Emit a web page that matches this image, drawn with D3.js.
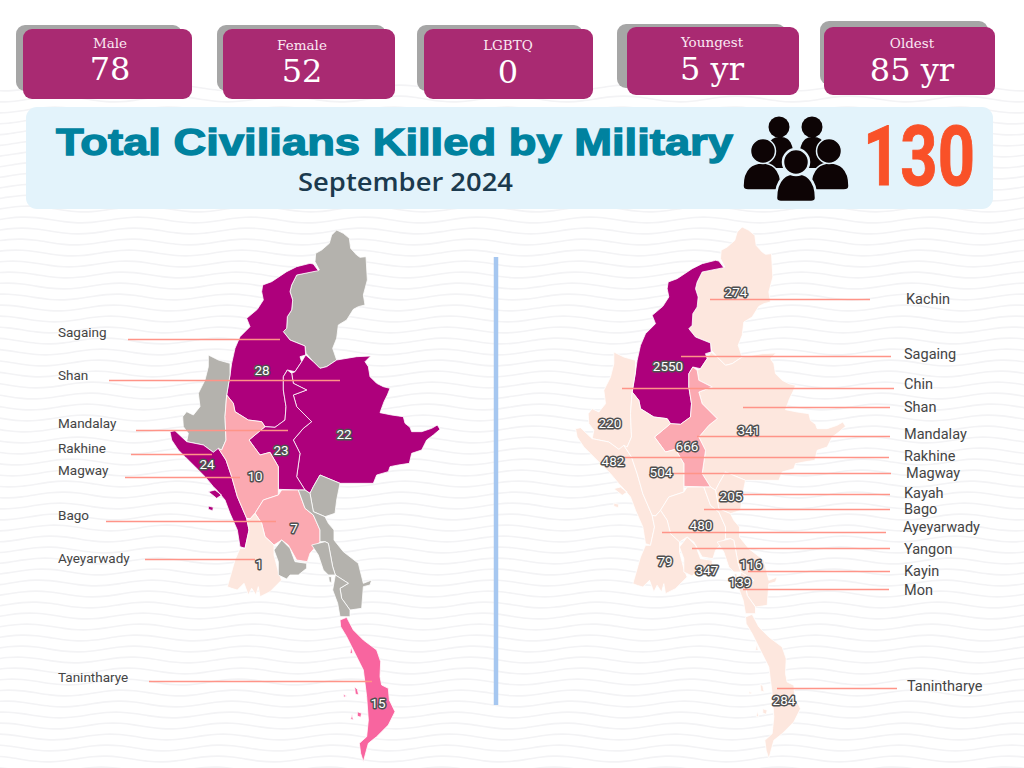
<!DOCTYPE html>
<html>
<head>
<meta charset="utf-8">
<style>
html,body{margin:0;padding:0;background:#fff}
svg{display:block}
</style>
<script src="https://cdn.jsdelivr.net/npm/d3@7"></script>
</head>
<body>
<script>
// stat boxes
var statLabels=["Male","Female","LGBTQ","Youngest","Oldest"]
var statValues=["78","52","0","5 yr","85 yr"]
var totalKilled=130

// regions, same order in both lists
var regionNames=["Kachin","Sagaing","Chin","Shan","Mandalay","Rakhine","Magway","Kayah","Bago","Ayeyarwady","Yangon","Kayin","Mon","Tanintharye"]
var septemberKilled=[0,28,0,22,23,24,10,0,7,1,0,0,0,15]
var overallKilled=[274,2550,220,341,666,482,504,205,480,79,347,116,139,284]

// map outlines, in map units
var outlines={
  Kachin:[[[560,30],[545,45],[538,70],[515,90],[497,100],[495,125],[508,150],[440,165],[425,195],[420,215],[428,240],[425,270],[412,290],[410,325],[400,335],[420,360],[465,378],[468,400],[490,425],[510,445],[530,440],[560,420],[548,385],[560,355],[565,315],[590,300],[610,268],[625,260],[645,255],[640,225],[652,180],[648,110],[630,112],[620,105],[602,85],[598,55],[580,40]]],
  Sagaing:[[[505,152],[490,132],[480,130],[440,140],[410,155],[365,185],[338,195],[335,215],[340,240],[322,268],[290,295],[300,320],[270,350],[255,385],[245,430],[240,465],[230,525],[250,550],[255,575],[295,600],[335,605],[345,620],[375,622],[405,600],[408,560],[400,510],[400,470],[412,450],[435,455],[455,425],[450,410],[467,405],[465,378],[420,360],[400,335],[410,325],[412,290],[425,270],[428,240],[420,215],[425,195],[440,165]]],
  Chin:[[[175,405],[205,420],[240,430],[240,465],[230,525],[225,590],[228,660],[215,690],[190,697],[160,675],[110,665],[115,640],[100,620],[98,590],[110,575],[130,585],[150,560],[145,520],[165,480],[175,440]]],
  Shan:[[[455,425],[467,405],[490,425],[510,445],[530,440],[560,420],[620,410],[662,408],[645,425],[655,440],[660,470],[680,490],[700,500],[720,505],[712,525],[702,545],[690,578],[725,585],[760,590],[765,610],[780,622],[785,635],[815,635],[845,625],[862,615],[870,628],[850,645],[830,660],[815,690],[785,700],[778,730],[745,735],[720,740],[715,755],[680,765],[670,790],[600,790],[570,790],[510,765],[490,800],[480,820],[465,810],[440,770],[450,700],[430,660],[460,625],[485,605],[440,560],[430,525],[470,510],[430,490],[425,460],[435,455]]],
  Mandalay:[[[345,620],[375,622],[405,600],[408,560],[400,510],[400,470],[412,450],[425,460],[430,490],[470,510],[430,525],[440,560],[485,605],[460,625],[430,660],[450,700],[440,770],[465,810],[445,810],[385,808],[385,740],[360,697],[330,705],[297,660]]],
  Rakhine:[[[60,635],[75,632],[110,665],[160,675],[190,697],[205,685],[228,720],[245,770],[262,830],[290,895],[297,930],[285,985],[270,980],[262,930],[240,880],[225,840],[200,810],[190,800],[165,770],[140,745],[105,710],[85,690],[65,660]],
    [[175,815],[195,810],[215,825],[200,835]],[[175,858],[190,862],[188,872],[175,868]]],
  Magway:[[[230,525],[250,550],[255,575],[295,600],[335,605],[345,620],[297,660],[330,705],[360,697],[385,740],[385,825],[340,840],[315,880],[300,897],[290,895],[262,830],[245,770],[228,720],[205,685],[215,690],[228,660],[225,590]]],
  Kayah:[[[510,765],[570,790],[560,840],[555,880],[525,890],[490,875],[480,820],[490,800]]],
  Bago:[[[385,825],[395,810],[445,810],[465,865],[490,885],[510,930],[510,965],[480,1000],[472,1025],[440,1020],[415,975],[395,960],[372,975],[345,950],[335,910],[315,880],[340,840]]],
  Ayeyarwady:[[[300,897],[315,880],[335,910],[345,950],[372,975],[372,1005],[385,1055],[395,1080],[360,1115],[330,1130],[325,1100],[318,1125],[305,1105],[295,1125],[282,1090],[262,1110],[245,1105],[232,1100],[255,1020],[270,985],[285,985],[297,930],[290,895]]],
  Yangon:[[[395,960],[420,985],[435,1025],[470,1030],[470,1045],[445,1065],[420,1065],[410,1077],[385,1065],[385,1025],[372,990]]],
  Kayin:[[[445,810],[465,810],[480,820],[490,875],[525,890],[535,910],[552,930],[552,960],[580,995],[625,1030],[630,1050],[640,1090],[665,1080],[660,1095],[640,1100],[635,1165],[600,1170],[575,1135],[570,1105],[595,1090],[556,1065],[548,1040],[535,970],[525,965],[510,965],[510,930],[490,885],[465,865]]],
  Mon:[[[485,975],[525,965],[535,970],[548,1040],[556,1065],[535,1065],[520,1050],[505,1005]],
    [[556,1065],[595,1090],[570,1105],[575,1135],[600,1170],[600,1190],[570,1190],[563,1150],[548,1110]],[[536,1070],[544,1070],[545,1088],[538,1085]]],
  Tanintharye:[[[570,1200],[590,1192],[610,1230],[640,1260],[680,1290],[692,1325],[690,1370],[695,1395],[715,1405],[718,1440],[735,1475],[715,1515],[680,1550],[655,1570],[640,1625],[632,1600],[628,1570],[650,1550],[655,1500],[650,1430],[645,1390],[640,1350],[605,1280],[590,1250],[572,1220]],
    [[614,1400],[622,1408],[626,1425],[616,1422]],[[580,1423],[590,1428],[582,1432]],[[622,1475],[635,1480],[632,1492],[622,1488]],[[606,1483],[610,1500],[602,1498]],[[600,1300],[604,1280],[608,1300]]]
}

// text and leader line layout in page pixels: [name x, name y, line x1, line x2, line y, value x, value y]
var leftLayout={
  Sagaing:[58,333,128,280,339,262,370],
  Shan:[58,376,109,340,380,344,434],
  Mandalay:[58,424,136,288,430,281,450],
  Rakhine:[58,449,131,212,454,207,464],
  Magway:[58,471,125,240,477,255,476],
  Bago:[58,516,106,276,521,294,528],
  Ayeyarwady:[58,559,145,255,559,259,564],
  Tanintharye:[58,678,149,372,681,378,703]
}
var rightLayout={
  Kachin:[906,300,710,870,299,736,292],
  Sagaing:[904,355,681,891,356,668,366],
  Chin:[904,385,622,894,388,610,423],
  Shan:[904,408,743,890,407,749,430],
  Mandalay:[904,435,697,890,436,687,446],
  Rakhine:[904,457,620,889,457,613,461],
  Magway:[906,474,660,891,473,661,472],
  Kayah:[904,494,743,890,494,731,496],
  Bago:[904,510,704,890,509,701,525],
  Ayeyarwady:[903,528,662,886,532,665,561],
  Yangon:[904,550,692,890,548,707,570],
  Kayin:[904,572,748,890,571,751,564],
  Mon:[904,591,743,889,589,740,582],
  Tanintharye:[907,687,777,897,688,784,700]
}

var boxes=[
  {x:23,y:29,w:169,h:70,sx:16,sy:25,lx:110,ly:48,vy:80},
  {x:223,y:29,w:172,h:70,sx:217,sy:25,lx:302,ly:50,vy:82},
  {x:424,y:29,w:169,h:70,sx:417,sy:25,lx:508,ly:50,vy:83},
  {x:627,y:27,w:172,h:68,sx:617,sy:24,lx:712,ly:47,vy:80},
  {x:824,y:27,w:171,h:68,sx:820,sy:21,lx:912,ly:48,vy:81}
]

var svg=d3.select("body").append("svg")
    .attr("width",1024)
    .attr("height",768)
    .style("font-family","Roboto")

// wavy paper background, starts below the top strip
var waveLine=d3.line().curve(d3.curveBasis)
var waves=svg.append("g").attr("id","waves")
d3.range(8,72).forEach(function(i){
  var pts=d3.range(-20,1050,14).map(function(x){
    return [x,i*11+3.2*Math.sin((x+i*3)/18)]
  })
  waves.append("path")
      .attr("d",waveLine(pts))
      .attr("fill","none")
      .attr("stroke","#f3f3f5")
      .attr("stroke-width",1.6)
})

// stat boxes
var box=svg.selectAll(".box")
    .data(boxes)
    .enter().append("g")
    .attr("class","box")

box.append("rect")
    .attr("x",function(d){return d.sx})
    .attr("y",function(d){return d.sy})
    .attr("width",function(d){return d.w-3})
    .attr("height",function(d){return d.h-4})
    .attr("rx",9)
    .style("fill","#a6a6a6")
box.append("rect")
    .attr("x",function(d){return d.x})
    .attr("y",function(d){return d.y})
    .attr("width",function(d){return d.w})
    .attr("height",function(d){return d.h})
    .attr("rx",9)
    .style("fill","#a92a72")
box.append("text")
    .attr("x",function(d){return d.lx})
    .attr("y",function(d){return d.ly})
    .attr("text-anchor","middle")
    .style("font-family","DejaVu Serif")
    .style("font-size","13.5px")
    .style("fill","#fbe9f2")
    .text(function(d,i){return statLabels[i]})
box.append("text")
    .attr("x",function(d){return d.lx})
    .attr("y",function(d){return d.vy})
    .attr("text-anchor","middle")
    .style("font-family","DejaVu Serif")
    .style("font-size","32px")
    .style("fill","#fff")
    .text(function(d,i){return statValues[i]})

// banner
svg.append("rect")
    .attr("x",26)
    .attr("y",107)
    .attr("width",967)
    .attr("height",102)
    .attr("rx",11)
    .style("fill","#e3f3fb")
svg.append("text")
    .attr("x",56)
    .attr("y",155)
    .attr("textLength",677)
    .attr("lengthAdjust","spacingAndGlyphs")
    .style("font-family","Liberation Sans")
    .style("font-weight","bold")
    .style("font-size","37px")
    .style("fill","#00829f")
    .style("stroke","#00829f")
    .style("stroke-width",1.3)
    .text("Total Civilians Killed by Military")
svg.append("text")
    .attr("x",298)
    .attr("y",191)
    .attr("textLength",215)
    .attr("lengthAdjust","spacingAndGlyphs")
    .style("font-family","Open Sans")
    .style("font-weight",600)
    .style("font-size","26px")
    .style("fill","#1b3a4e")
    .text("September 2024")
svg.append("text")
    .attr("x",863)
    .attr("y",185)
    .attr("textLength",112)
    .attr("lengthAdjust","spacingAndGlyphs")
    .style("font-family","Roboto")
    .style("font-weight","bold")
    .style("font-size","84px")
    .style("fill","#f95128")
    .style("stroke","#f95128")
    .style("stroke-width",1)
    .text(totalKilled)

// people icon
var bodyPath=function(x,w,t,b){
  return "M"+(x-w)+" "+(b-4)+"C"+(x-w)+" "+(t+5)+" "+(x-9)+" "+t+" "+x+" "+t
    +"S"+(x+w)+" "+(t+5)+" "+(x+w)+" "+(b-4)
    +"Q"+(x+w)+" "+b+" "+(x+w-5)+" "+b+"H"+(x-w+5)+"Q"+(x-w)+" "+b+" "+(x-w)+" "+(b-4)+"Z"
}
var icon=svg.append("g").style("fill","#0d0405")
icon.selectAll(".backbody").data([780,813]).enter().append("path")
    .attr("d",function(d){return bodyPath(d,14,137,168)})
icon.selectAll(".backhead").data([779,812]).enter().append("circle")
    .attr("cx",function(d){return d}).attr("cy",127).attr("r",10.5)
icon.selectAll(".midbody").data([762,830]).enter().append("path")
    .attr("d",function(d){return bodyPath(d,19,163,190)})
    .style("stroke","#e3f3fb").style("stroke-width",1.5)
icon.selectAll(".midhead").data([763,829]).enter().append("circle")
    .attr("cx",function(d){return d}).attr("cy",151).attr("r",12.5)
    .style("stroke","#e3f3fb").style("stroke-width",1.5)
icon.append("path").attr("d",bodyPath(796,20,173,202))
    .style("stroke","#e3f3fb").style("stroke-width",2.5)
icon.append("circle").attr("cx",796).attr("cy",162).attr("r",13)
    .style("stroke","#e3f3fb").style("stroke-width",2.5)

// divider
svg.append("line")
    .attr("x1",496)
    .attr("x2",496)
    .attr("y1",257)
    .attr("y2",705)
    .attr("stroke-width",4.5)
    .style("stroke","#a6c7f0")

var leftColor=d3.scaleThreshold()
    .domain([1,5,11,21])
    .range(["#b4b2ad","#fde7de","#fba9b1","#f8659f","#ae007c"])
var rightColor=d3.scaleThreshold()
    .domain([600,1000])
    .range(["#fde7de","#fba9b1","#ae007c"])

var drawMap=function(values,color,layout,dx,dy,nameSize){
  var xScale=d3.scaleLinear().domain([0,900]).range([150+dx,450+dx])
  var yScale=d3.scaleLinear().domain([0,1644]).range([220+dy,768+dy])
  var ring=d3.line()
      .x(function(d){return xScale(d[0])})
      .y(function(d){return yScale(d[1])})
      .curve(d3.curveLinearClosed)
  var g=svg.append("g")

  g.selectAll("path")
      .data(regionNames)
      .enter().append("path")
      .attr("d",function(d){return outlines[d].map(ring).join("")})
      .style("fill",function(d,i){return color(values[i])})
      .style("stroke","#fff")
      .style("stroke-width",0.8)
      .style("stroke-linejoin","round")

  var names=regionNames.filter(function(d){return layout[d]})
  g.selectAll("line")
      .data(names)
      .enter().append("line")
      .attr("x1",function(d){return layout[d][2]})
      .attr("x2",function(d){return layout[d][3]})
      .attr("y1",function(d){return layout[d][4]+0.5})
      .attr("y2",function(d){return layout[d][4]+0.5})
      .attr("stroke-width",1.3)
      .style("stroke","#ff9488")

  g.selectAll(".name")
      .data(names)
      .enter().append("text")
      .attr("class","name")
      .attr("x",function(d){return layout[d][0]})
      .attr("y",function(d){return layout[d][1]+4})
      .style("font-size",nameSize+"px")
      .style("fill","#444")
      .text(function(d){return d})

  g.selectAll(".value")
      .data(names)
      .enter().append("text")
      .attr("class","value")
      .attr("x",function(d){return layout[d][5]})
      .attr("y",function(d){return layout[d][6]+5})
      .attr("text-anchor","middle")
      .style("font-size","13.5px")
      .style("fill","#fff")
      .style("stroke","#505050")
      .style("stroke-width",3)
      .style("stroke-linejoin","round")
      .style("paint-order","stroke")
      .text(function(d){return values[regionNames.indexOf(d)]})
}

drawMap(septemberKilled,leftColor,leftLayout,0,0,13.5)
drawMap(overallKilled,rightColor,rightLayout,405.5,-3,14.5)
</script>
</body>
</html>
